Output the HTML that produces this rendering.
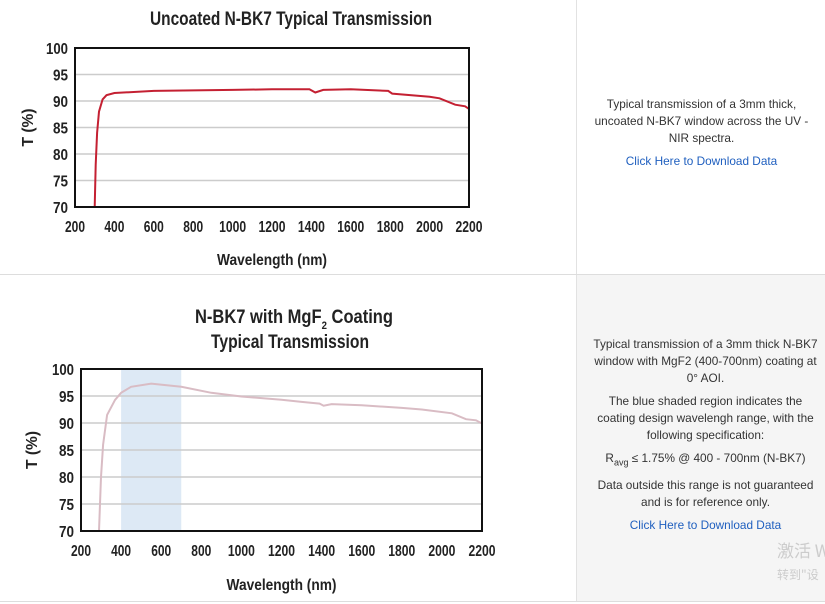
<!DOCTYPE html>
<html><head><meta charset="utf-8"><style>
body{margin:0;width:825px;height:604px;background:#fff;overflow:hidden;font-family:"Liberation Sans",sans-serif;position:relative}
svg{position:absolute;left:0;top:0}
.panel{position:absolute;left:576px;width:249px;border-left:1px solid #e2e2e2;text-align:center;font-size:11.8px;color:#333;line-height:17px}
.panel p{margin:0 0 6px 0}
a{color:#1f5fbf;text-decoration:none}
</style></head><body>
<div style="position:absolute;left:0;top:274px;width:825px;height:1px;background:#ddd"></div>
<div style="position:absolute;left:0;top:601px;width:825px;height:1px;background:#ddd"></div>
<div class="panel" style="top:0;height:274px;background:#fff">
<div style="position:absolute;top:96px;left:0;width:249px">
<p>Typical transmission of a 3mm thick,<br>uncoated N-BK7 window across the UV -<br>NIR spectra.</p>
<p><a>Click Here to Download Data</a></p></div></div>
<div class="panel" style="top:275px;height:326px;background:#f5f5f5">
<div style="position:absolute;top:61px;left:0;width:257px">
<p>Typical transmission of a 3mm thick N-BK7<br>window with MgF2 (400-700nm) coating at<br>0° AOI.</p>
<p>The blue shaded region indicates the<br>coating design wavelengh range, with the<br>following specification:</p>
<p>R<sub style="font-size:9px">avg</sub> ≤ 1.75% @ 400 - 700nm (N-BK7)</p>
<p>Data outside this range is not guaranteed<br>and is for reference only.</p>
<p><a>Click Here to Download Data</a></p></div>
<div style="position:absolute;left:200px;top:266px;font-size:17px;color:#ccc;font-family:'Noto Sans CJK SC',sans-serif;white-space:nowrap">激活 W</div>
<div style="position:absolute;left:200px;top:291px;font-size:12px;color:#ccc;font-family:'Noto Sans CJK SC',sans-serif;white-space:nowrap">转到"设</div>
</div>
<svg id="s" width="576" height="604" font-family="'Liberation Sans Narrow','Liberation Sans',sans-serif" font-weight="bold"></svg>
<script>
const s=document.getElementById('s');let h='';
function chart(o){
 const {x0,x1,y0,y1}=o;const X=w=>x0+(w-200)/2000*(x1-x0);const Y=t=>y1-(t-70)/30*(y1-y0);
 if(o.shade)h+=`<rect x="${X(400)}" y="${y0}" width="${X(700)-X(400)}" height="${y1-y0}" fill="#dde9f5"/>`;
 for(let t=75;t<100;t+=5)h+=`<line x1="${x0}" x2="${x1}" y1="${Y(t)}" y2="${Y(t)}" stroke="#ccc" stroke-width="1.5"/>`;
 for(let t=70;t<=100;t+=5)h+=`<text x="${x0-7}" y="${Y(t)+6}" text-anchor="end" font-size="16" fill="#222" textLength="${t==100?22:15}" lengthAdjust="spacingAndGlyphs">${t}</text>`;
 for(let w=200;w<=2200;w+=200)h+=`<text x="${X(w)}" y="${y1+25}" text-anchor="middle" font-size="16" fill="#222" textLength="${w>=1000?27:20}" lengthAdjust="spacingAndGlyphs">${w}</text>`;
 h+=`<path d="${o.d.map((p,i)=>(i?'L':'M')+X(p[0]).toFixed(1)+','+Y(p[1]).toFixed(1)).join('')}" fill="none" stroke="${o.c}" stroke-width="2"/>`;
 h+=`<rect x="${x0}" y="${y0}" width="${x1-x0}" height="${y1-y0}" fill="none" stroke="#111" stroke-width="2"/>`;
 h+=`<text x="${(x0+x1)/2}" y="${o.wy}" text-anchor="middle" font-size="16" fill="#222" textLength="110" lengthAdjust="spacingAndGlyphs">Wavelength (nm)</text>`;
 const cy=(y0+y1)/2;h+=`<text transform="translate(${o.tx},${cy}) rotate(-90)" text-anchor="middle" font-size="16" fill="#222" textLength="38" lengthAdjust="spacingAndGlyphs">T (%)</text>`;
}
chart({x0:75,x1:469,y0:48,y1:207,wy:265,tx:33,c:"#c42032",d:[[300,70],[305,78],[312,84],[322,88],[340,90.3],[360,91.1],[400,91.5],[600,91.9],[1000,92.1],[1200,92.2],[1390,92.2],[1420,91.6],[1460,92.1],[1600,92.2],[1790,91.9],[1810,91.4],[2000,90.8],[2050,90.5],[2130,89.3],[2180,89],[2200,88.5]]});
chart({x0:81,x1:482,y0:369,y1:531,wy:590,tx:37,shade:1,c:"#d9bcc4",d:[[290,70],[300,80],[310,86],[330,91.5],[370,94.3],[400,95.6],[450,96.7],[550,97.3],[700,96.7],[850,95.6],[1000,94.9],[1200,94.3],[1300,93.9],[1390,93.6],[1410,93.2],[1450,93.5],[1600,93.3],[1800,92.8],[1900,92.5],[2050,91.8],[2120,90.7],[2170,90.5],[2200,89.9]]});
h+=`<text x="291" y="25" text-anchor="middle" font-size="19" fill="#222" textLength="282" lengthAdjust="spacingAndGlyphs">Uncoated N-BK7 Typical Transmission</text>`;
h+=`<text x="294" y="323" text-anchor="middle" font-size="19" fill="#222" textLength="198" lengthAdjust="spacingAndGlyphs">N-BK7 with MgF<tspan font-size="11" dy="6">2</tspan><tspan dy="-6"> Coating</tspan></text>`;
h+=`<text x="290" y="348" text-anchor="middle" font-size="19" fill="#222" textLength="158" lengthAdjust="spacingAndGlyphs">Typical Transmission</text>`;
s.innerHTML=h;
</script>
</body></html>
